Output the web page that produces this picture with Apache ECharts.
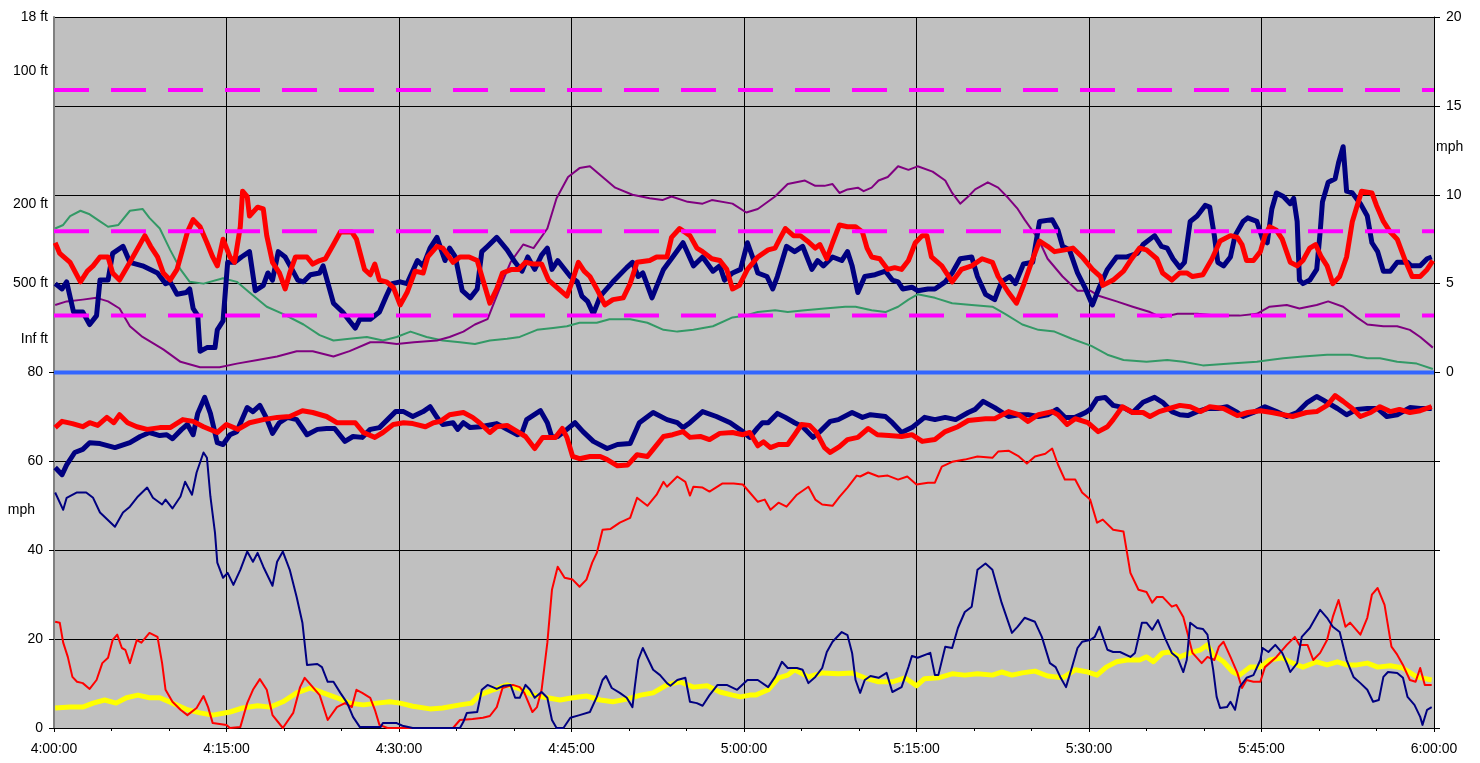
<!DOCTYPE html>
<html>
<head>
<meta charset="utf-8">
<title>Wind / visibility trace 4:00 - 6:00</title>
<script src="https://cdn.jsdelivr.net/npm/echarts@6/dist/echarts.min.js"></script>
<style>
  html, body { margin: 0; padding: 0; background: #fff; }
  #chart { width: 1480px; height: 763px; }
</style>
</head>
<body>
<div id="chart"></div>
<script>
// every point is [minutes after 4:00:00, value]

// upper band, right axis (mph)
const navyHi = [[0.1,5.0],[0.7,4.7],[1.1,5.1],[1.7,3.4],[2.5,3.4],[3.1,2.7],[3.7,3.2],[4.0,5.2],[4.7,5.2],[5.1,6.7],[6.0,7.1],[6.6,6.2],[7.7,6.0],[9.0,5.6],[9.7,5.0],[10.1,5.1],[10.7,4.4],[11.5,4.5],[11.8,4.7],[12.1,3.6],[12.5,3.2],[12.7,1.2],[13.3,1.4],[14.0,1.4],[14.2,2.4],[14.7,2.9],[15.1,6.2],[15.7,6.2],[16.3,6.5],[17.0,6.8],[17.5,4.6],[18.2,4.9],[18.6,5.6],[19.0,5.2],[19.5,6.8],[20.1,6.5],[20.7,5.8],[21.2,5.2],[21.7,5.1],[22.3,5.5],[23.1,5.6],[23.4,6.0],[24.3,3.9],[25.1,3.4],[25.7,2.9],[26.2,2.5],[26.6,3.0],[27.5,3.0],[28.3,3.4],[28.9,4.3],[29.4,5.0],[30.1,5.1],[30.7,5.0],[31.6,6.3],[32.1,6.0],[32.7,7.0],[33.3,7.6],[34.0,6.3],[34.4,7.0],[34.9,6.5],[35.5,4.6],[36.2,4.2],[36.8,4.7],[37.2,6.8],[37.7,7.1],[38.5,7.6],[39.4,6.9],[40.1,6.2],[40.7,5.7],[41.2,6.5],[41.8,5.8],[42.4,6.6],[42.9,7.0],[43.3,5.8],[43.8,6.3],[44.9,5.4],[45.5,5.1],[45.9,4.3],[46.4,4.0],[46.9,3.3],[47.5,4.3],[48.6,5.1],[49.8,5.9],[50.3,6.2],[50.8,5.4],[51.2,5.6],[52.0,4.2],[53.0,5.8],[53.8,6.5],[54.7,7.3],[55.6,6.0],[56.4,6.5],[57.3,5.7],[57.9,6.0],[58.3,5.2],[59.0,5.6],[59.7,5.8],[60.3,7.3],[60.8,6.4],[61.2,5.6],[62.0,5.4],[62.5,4.7],[62.9,5.4],[63.7,7.1],[64.4,6.8],[65.1,7.1],[65.9,5.8],[66.4,6.3],[66.9,6.0],[67.7,6.5],[68.5,6.3],[69.0,6.8],[69.4,6.0],[69.9,4.5],[70.5,5.4],[71.4,5.5],[72.3,5.7],[72.9,5.2],[73.4,5.1],[73.8,4.7],[74.6,4.8],[75.1,4.6],[76.0,4.7],[76.6,4.7],[77.5,5.1],[78.1,5.6],[78.8,6.4],[79.8,6.5],[80.3,5.4],[81.0,4.4],[81.8,4.1],[82.4,5.1],[83.1,5.4],[83.6,5.0],[84.3,6.1],[85.1,6.2],[85.7,8.5],[86.8,8.6],[87.3,8.0],[87.7,7.1],[88.3,6.9],[89.0,5.6],[89.7,4.7],[90.3,3.8],[90.9,4.8],[91.6,5.8],[92.4,6.5],[93.3,6.5],[94.2,6.7],[94.7,7.2],[95.7,7.7],[96.3,7.1],[96.8,7.0],[97.3,6.4],[97.9,5.9],[98.3,6.2],[98.8,8.5],[99.4,8.8],[100.1,9.4],[100.5,9.3],[100.9,7.7],[101.2,6.2],[101.7,6.0],[102.3,6.5],[102.7,7.7],[103.4,8.5],[103.8,8.7],[104.6,8.5],[105.1,7.5],[105.5,7.3],[105.9,9.2],[106.3,10.1],[106.9,9.9],[107.5,9.5],[107.8,9.8],[108.1,8.5],[108.3,5.2],[108.6,5.0],[109.2,5.2],[109.8,5.8],[110.1,7.9],[110.3,9.6],[110.8,10.7],[111.4,10.9],[111.7,11.8],[112.1,12.7],[112.4,10.2],[112.9,10.1],[113.6,9.5],[114.2,8.8],[114.6,7.3],[115.1,6.8],[115.6,5.7],[116.2,5.7],[116.8,6.2],[117.7,6.2],[118.0,6.0],[118.8,6.0],[119.4,6.4],[119.8,6.5]];

const redHi = [[0.1,7.3],[0.5,6.7],[1.4,6.2],[2.3,5.1],[2.9,5.7],[3.4,6.0],[4.0,6.5],[4.7,6.5],[5.1,5.6],[5.7,5.2],[6.6,6.2],[7.9,7.7],[8.4,7.1],[9.0,6.5],[9.5,5.6],[10.1,5.2],[10.7,5.8],[11.6,7.9],[12.1,8.6],[12.7,8.2],[13.3,7.3],[13.8,6.5],[14.2,6.0],[14.7,7.5],[15.3,6.5],[15.7,6.2],[16.2,8.2],[16.4,10.2],[16.8,9.9],[17.0,8.8],[17.7,9.3],[18.2,9.2],[18.5,7.7],[19.0,6.2],[19.6,5.6],[20.1,4.7],[20.5,5.6],[21.0,6.5],[22.0,6.5],[22.5,6.1],[23.1,6.3],[23.6,6.4],[24.3,7.2],[24.9,7.9],[25.9,7.9],[26.3,7.5],[27.0,5.8],[27.5,5.5],[27.9,6.1],[28.3,5.2],[28.9,5.1],[29.5,4.8],[30.1,3.8],[30.7,4.5],[31.4,5.7],[32.1,5.6],[32.5,6.5],[33.3,7.1],[33.8,7.0],[34.7,6.2],[35.3,6.5],[36.1,6.5],[36.8,6.3],[37.3,5.2],[37.9,3.9],[38.5,4.7],[39.0,5.6],[39.8,5.8],[40.4,5.8],[41.0,6.2],[41.7,6.1],[42.4,6.1],[43.0,5.2],[43.7,4.8],[44.6,4.3],[45.1,5.2],[45.6,6.2],[46.1,5.7],[46.6,5.4],[47.2,4.7],[47.9,3.8],[48.6,4.1],[49.5,4.2],[50.1,5.0],[50.7,6.2],[51.8,6.3],[52.4,6.5],[53.3,6.5],[53.7,7.6],[54.4,8.1],[55.3,7.7],[55.9,7.0],[56.4,6.8],[57.2,6.4],[57.9,6.3],[58.5,5.8],[59.0,4.7],[59.6,4.9],[60.3,5.8],[61.2,6.5],[62.1,6.9],[62.7,7.0],[63.1,7.5],[63.6,8.1],[64.3,7.7],[64.9,7.7],[65.5,7.4],[66.2,7.0],[66.6,7.2],[67.2,6.4],[67.7,7.3],[68.3,8.3],[69.0,8.2],[69.7,8.2],[70.3,7.9],[70.7,7.0],[71.1,6.5],[71.8,6.4],[72.5,5.8],[73.1,5.9],[73.7,5.8],[74.3,6.3],[74.9,7.3],[75.5,7.7],[75.9,7.7],[76.3,6.5],[77.2,6.0],[78.1,5.1],[78.9,5.8],[79.8,6.0],[80.7,6.4],[81.6,6.2],[82.1,5.4],[83.0,4.5],[83.7,3.9],[84.3,4.9],[85.0,6.2],[85.7,7.4],[86.4,7.1],[87.0,6.8],[87.9,6.9],[88.6,7.0],[89.4,6.5],[90.3,5.8],[91.0,5.4],[91.2,4.9],[92.1,5.2],[93.0,5.7],[93.6,6.3],[94.4,7.0],[95.0,6.9],[95.9,6.4],[96.4,5.6],[97.2,5.2],[97.9,5.6],[98.5,5.6],[99.0,5.4],[99.9,5.5],[100.7,6.4],[101.4,7.4],[102.3,7.7],[102.9,7.6],[103.3,7.2],[103.7,6.3],[104.3,6.3],[104.9,6.8],[105.3,7.7],[105.7,8.2],[106.3,8.0],[106.8,7.5],[107.5,6.2],[108.1,6.0],[108.6,6.3],[109.2,7.0],[109.7,7.2],[110.2,6.5],[110.7,6.0],[111.2,5.0],[111.8,5.4],[112.4,6.5],[112.9,8.5],[113.7,10.2],[114.6,10.1],[115.0,9.4],[115.6,8.5],[116.2,7.9],[116.8,7.5],[117.5,6.3],[118.1,5.4],[118.8,5.4],[119.4,5.8],[119.9,6.3]];

const purpleHi = [[0.1,3.8],[1.1,4.0],[2.5,4.1],[3.7,4.2],[4.7,4.0],[5.7,3.6],[6.6,2.6],[7.7,2.0],[9.5,1.3],[11.0,0.6],[12.7,0.3],[14.4,0.3],[15.9,0.5],[17.7,0.7],[19.4,0.9],[21.1,1.2],[22.5,1.2],[24.3,0.9],[25.7,1.2],[27.5,1.7],[28.6,1.7],[29.8,1.6],[31.3,1.7],[33.3,1.8],[34.4,2.0],[35.6,2.3],[36.6,2.7],[37.7,3.0],[38.8,4.8],[39.7,6.2],[40.8,7.2],[41.7,7.0],[42.9,8.1],[43.7,9.8],[44.7,11.0],[45.7,11.5],[46.6,11.6],[47.7,11.0],[48.8,10.4],[50.3,10.0],[51.8,9.8],[52.9,9.7],[53.7,9.9],[55.1,9.6],[56.4,9.5],[57.2,9.7],[59.0,9.5],[60.2,9.0],[61.2,9.2],[62.7,9.9],[63.8,10.6],[65.3,10.8],[66.2,10.5],[67.0,10.5],[67.7,10.6],[68.3,10.1],[69.0,10.3],[69.9,10.4],[70.4,10.2],[71.1,10.4],[71.7,10.8],[72.5,11.0],[73.4,11.6],[74.3,11.4],[75.1,11.6],[76.4,11.3],[77.5,10.8],[78.1,10.1],[78.8,9.5],[79.5,9.9],[80.1,10.3],[81.2,10.7],[82.1,10.4],[83.0,9.8],[83.8,9.2],[84.4,8.6],[85.6,7.5],[86.4,6.4],[87.7,5.4],[89.0,4.6],[90.1,4.6],[90.9,4.3],[92.4,4.0],[93.8,3.7],[95.3,3.4],[96.3,3.1],[97.7,3.3],[99.4,3.3],[101.1,3.2],[103.1,3.2],[104.6,3.3],[105.7,3.7],[107.2,3.8],[108.3,3.6],[109.8,3.8],[110.8,4.0],[112.1,3.7],[113.3,3.1],[114.2,2.7],[115.6,2.6],[116.8,2.6],[117.9,2.4],[118.8,2.0],[119.9,1.4]];

const greenHi = [[0.1,8.1],[0.8,8.3],[1.4,8.8],[2.3,9.1],[3.1,8.9],[4.0,8.5],[4.7,8.2],[5.6,8.3],[6.6,9.1],[7.7,9.2],[8.3,8.7],[9.2,8.1],[10.1,6.9],[11.0,5.8],[11.8,5.1],[13.0,5.0],[14.7,5.3],[15.9,5.1],[17.0,4.5],[18.5,3.7],[19.9,3.3],[21.7,2.7],[23.1,2.1],[24.3,1.8],[25.7,1.9],[27.2,2.0],[28.6,1.8],[29.8,2.0],[31.0,2.3],[32.4,2.0],[33.8,1.8],[35.3,1.7],[36.6,1.6],[37.9,1.8],[39.4,1.9],[40.5,2.0],[42.0,2.4],[43.4,2.5],[44.6,2.6],[45.7,2.8],[47.2,2.8],[48.3,3.0],[50.1,3.0],[51.6,2.8],[53.0,2.4],[54.2,2.3],[55.6,2.4],[57.3,2.6],[59.0,3.1],[60.1,3.2],[61.2,3.4],[62.7,3.5],[63.8,3.4],[65.3,3.5],[67.0,3.6],[68.8,3.7],[69.7,3.7],[71.1,3.5],[72.3,3.4],[73.4,3.7],[74.3,4.1],[75.1,4.4],[76.6,4.2],[78.1,3.9],[79.8,3.8],[81.6,3.7],[82.7,3.3],[84.2,2.7],[85.6,2.4],[87.0,2.3],[88.5,1.9],[90.2,1.5],[91.6,1.0],[93.0,0.7],[95.0,0.6],[96.8,0.7],[98.2,0.6],[99.9,0.4],[102.3,0.5],[104.6,0.6],[105.7,0.7],[106.9,0.8],[108.6,0.9],[110.7,1.0],[112.7,1.0],[114.2,0.8],[115.3,0.8],[116.8,0.6],[118.5,0.5],[119.9,0.2]];

// lower band, left axis (mph)
const navyLo = [[0.1,58.6],[0.7,57.0],[1.1,59.2],[1.8,62.0],[2.5,62.7],[3.1,64.2],[4.0,64.0],[5.3,63.1],[6.6,64.2],[7.5,65.6],[8.3,66.5],[9.2,65.8],[9.8,66.0],[10.3,65.1],[11.1,67.2],[11.6,68.3],[12.1,66.0],[12.5,70.8],[13.1,74.4],[13.6,70.8],[14.2,64.2],[14.7,63.8],[15.3,66.0],[15.9,66.7],[16.8,72.1],[17.3,71.2],[17.9,72.6],[18.5,69.6],[19.0,66.3],[19.6,68.7],[20.3,69.9],[21.1,69.4],[22.0,66.0],[22.9,67.2],[23.7,67.4],[24.4,67.4],[25.3,64.5],[26.0,65.6],[26.8,65.4],[27.5,67.2],[28.3,67.6],[29.0,69.4],[29.7,71.2],[30.4,71.2],[31.2,70.1],[32.1,71.2],[32.7,72.3],[33.3,69.9],[33.8,68.3],[34.7,68.7],[35.1,67.2],[35.6,68.7],[36.2,67.6],[37.1,67.8],[38.5,68.5],[39.4,67.2],[40.3,66.0],[40.7,66.5],[41.1,69.4],[42.3,71.4],[42.9,68.7],[43.3,65.4],[43.8,65.6],[44.6,67.2],[45.3,68.7],[46.0,66.7],[46.9,64.5],[48.1,62.9],[49.0,63.8],[50.1,64.0],[50.9,68.7],[52.1,71.0],[53.3,69.4],[54.2,68.7],[54.7,67.6],[55.3,68.7],[56.4,71.2],[57.6,70.1],[58.8,68.7],[59.9,66.7],[60.5,65.4],[61.2,67.6],[61.6,68.7],[62.1,68.7],[62.9,70.8],[63.6,69.9],[64.4,68.7],[65.1,67.8],[66.0,65.4],[66.6,66.7],[67.5,69.0],[68.2,69.4],[69.4,71.0],[70.3,69.9],[71.0,70.5],[72.3,70.1],[72.9,68.7],[73.7,66.5],[74.6,67.6],[75.7,69.9],[76.6,69.4],[77.5,69.9],[78.4,69.4],[79.5,71.0],[80.1,71.7],[80.8,73.5],[81.8,72.1],[83.0,70.1],[83.9,70.5],[84.7,70.5],[85.6,70.1],[86.4,70.5],[87.2,71.7],[87.9,69.9],[88.8,69.9],[89.7,71.0],[90.1,71.7],[90.7,74.1],[91.4,74.4],[92.1,72.6],[93.0,72.1],[93.8,71.0],[94.7,73.3],[95.7,74.4],[96.4,73.3],[97.2,71.2],[97.9,70.5],[98.6,70.3],[99.4,71.2],[100.3,71.9],[101.2,71.9],[102.0,72.3],[102.9,71.0],[103.4,70.1],[104.3,71.0],[105.3,72.3],[106.3,71.2],[107.2,70.1],[108.1,71.0],[109.0,73.3],[109.8,74.6],[110.3,73.9],[111.6,71.9],[112.4,70.5],[113.3,71.7],[114.2,71.9],[115.1,71.9],[115.9,70.1],[116.8,70.5],[117.9,72.1],[118.8,71.9],[119.8,71.9]];

const redLo = [[0.1,67.6],[0.7,69.0],[1.6,68.5],[2.5,67.8],[3.1,68.7],[3.8,68.1],[4.6,69.9],[5.2,68.7],[5.7,70.5],[6.4,68.7],[7.2,67.8],[8.1,67.2],[9.2,67.6],[10.1,67.6],[11.2,69.4],[12.1,69.0],[13.0,67.8],[14.2,66.5],[15.0,68.3],[16.0,67.2],[17.0,68.7],[18.2,69.4],[19.4,69.9],[20.5,70.1],[21.6,71.4],[22.5,71.0],[23.7,70.1],[24.6,68.7],[25.5,68.7],[26.2,68.7],[26.9,66.5],[27.9,65.4],[28.6,66.5],[29.5,68.3],[30.4,68.7],[31.2,68.5],[32.3,67.8],[33.0,68.7],[33.6,69.0],[34.4,70.5],[35.6,71.0],[36.4,69.9],[37.0,68.7],[37.9,66.5],[38.5,67.8],[39.4,68.1],[40.3,66.7],[41.0,65.6],[41.8,62.9],[42.5,65.4],[43.6,65.4],[44.2,67.4],[44.6,65.4],[45.1,61.1],[45.7,60.6],[46.6,61.1],[47.5,61.1],[48.1,60.4],[49.0,59.0],[49.9,59.2],[50.7,61.5],[51.6,61.1],[52.1,62.7],[53.0,65.6],[53.8,66.0],[54.7,66.7],[55.3,65.4],[56.2,65.6],[57.0,64.9],[57.9,66.3],[59.0,66.5],[59.9,66.0],[60.5,66.5],[61.2,63.5],[61.7,64.4],[62.3,63.1],[63.0,63.8],[63.8,63.8],[64.4,66.0],[65.0,68.3],[65.7,68.1],[66.3,66.5],[67.0,63.1],[67.5,62.0],[68.3,63.3],[69.0,64.9],[69.9,65.4],[70.8,67.4],[71.6,66.0],[72.6,65.8],[73.7,65.6],[74.6,66.0],[75.5,64.5],[76.6,64.9],[77.5,66.7],[78.6,67.8],[79.5,69.2],[81.0,69.6],[81.8,69.6],[83.0,71.2],[83.9,70.5],[84.7,69.0],[85.6,70.5],[86.8,71.2],[87.3,70.5],[88.1,68.3],[88.8,69.6],[89.9,68.7],[90.8,66.7],[91.6,67.8],[92.1,69.4],[92.9,72.3],[93.8,71.0],[94.7,71.0],[95.3,70.1],[96.1,71.2],[97.0,71.9],[97.9,72.6],[98.8,72.3],[99.7,71.2],[100.5,72.3],[101.7,71.9],[102.9,70.3],[103.8,71.0],[104.9,71.4],[105.9,71.0],[106.9,70.5],[107.7,70.1],[108.9,71.0],[109.8,71.2],[110.7,72.6],[111.4,74.8],[112.1,73.5],[112.9,71.9],[113.6,70.1],[114.5,71.0],[115.3,72.3],[116.2,71.2],[117.0,71.7],[117.9,71.0],[118.8,71.4],[119.8,72.3]];

const navyThin = [[0.1,53.0],[0.8,49.1],[1.1,51.8],[2.0,53.0],[2.8,53.0],[3.4,51.8],[4.0,48.5],[5.3,45.3],[6.0,48.5],[6.6,49.8],[7.3,52.1],[8.1,54.1],[8.6,51.8],[9.4,50.3],[9.7,51.4],[10.3,49.4],[11.0,52.1],[11.4,55.4],[12.0,52.5],[12.4,57.5],[13.0,62.0],[13.3,60.8],[13.6,52.1],[14.0,43.9],[14.2,37.2],[14.7,33.8],[15.1,34.9],[15.6,32.2],[16.2,35.6],[16.8,39.7],[17.3,37.4],[17.7,39.4],[18.2,36.3],[19.0,32.0],[19.4,37.4],[19.9,39.7],[20.5,35.6],[21.1,29.5],[21.6,23.7],[22.0,14.2],[22.9,14.4],[23.3,13.7],[23.8,10.4],[24.3,10.4],[24.9,7.9],[25.5,5.6],[26.0,2.5],[26.6,0.2],[28.4,0.2],[28.6,1.1],[29.8,1.1],[30.3,0.5],[31.2,0],[35.3,0],[35.6,1.4],[35.9,3.4],[36.8,3.6],[37.2,8.6],[37.7,9.7],[38.5,8.8],[39.1,9.5],[39.7,9.7],[40.1,6.8],[40.5,6.8],[41.0,9.7],[41.4,8.6],[41.8,6.8],[42.4,8.1],[42.9,6.8],[43.3,1.8],[43.7,0],[44.3,0],[44.9,2.3],[45.7,2.9],[46.6,3.6],[47.2,7.0],[47.7,10.8],[48.0,11.7],[48.5,9.0],[49.2,7.9],[49.8,6.8],[50.3,4.7],[50.5,9.2],[50.8,15.3],[51.2,18.0],[51.6,15.8],[52.1,13.1],[52.7,11.9],[53.3,10.1],[53.6,9.5],[54.2,10.8],[54.9,11.3],[55.3,5.9],[55.9,5.6],[56.4,5.0],[57.0,7.4],[57.7,9.7],[58.5,9.7],[59.4,8.6],[60.3,10.8],[61.2,10.8],[62.1,9.2],[62.7,11.5],[63.3,14.9],[63.8,13.5],[64.6,13.5],[65.1,13.1],[65.6,10.1],[66.2,11.5],[66.8,13.5],[67.2,17.1],[67.7,19.4],[68.5,21.6],[69.0,20.9],[69.4,16.9],[69.7,10.8],[70.1,7.9],[70.5,10.8],[71.0,11.7],[71.7,11.3],[72.4,12.4],[72.9,8.1],[73.7,9.2],[74.3,13.7],[74.6,16.2],[75.1,15.8],[76.2,16.9],[76.6,11.9],[76.9,11.9],[77.5,18.3],[78.1,18.0],[78.6,22.5],[79.2,26.1],[79.8,27.3],[80.3,35.6],[81.0,37.0],[81.6,35.6],[82.4,28.2],[83.3,21.4],[83.8,22.8],[84.4,24.8],[85.3,23.9],[85.9,20.5],[86.6,14.6],[87.1,13.7],[87.5,11.5],[88.0,9.2],[88.5,13.5],[89.0,18.0],[89.4,19.4],[90.1,19.8],[90.5,20.5],[90.9,22.8],[91.6,17.6],[92.1,17.1],[92.7,17.1],[93.6,16.0],[94.0,16.9],[94.6,23.7],[95.0,23.7],[95.5,22.1],[96.0,24.3],[96.6,20.3],[97.2,16.9],[97.7,15.8],[98.2,12.6],[98.5,15.3],[98.8,23.7],[99.4,22.5],[99.9,22.3],[100.3,21.0],[100.8,13.1],[101.1,7.0],[101.4,4.5],[102.0,4.7],[102.3,5.9],[102.7,4.1],[103.1,9.2],[103.7,11.3],[104.3,11.9],[104.9,15.3],[105.1,18.0],[105.6,17.1],[106.2,18.7],[106.8,16.9],[107.2,14.6],[107.5,12.6],[108.1,14.6],[108.5,20.5],[109.2,22.5],[110.1,26.6],[110.7,24.8],[111.2,22.8],[111.8,21.6],[112.4,15.3],[113.0,11.5],[113.6,10.1],[114.2,8.6],[114.7,5.9],[115.2,6.3],[115.6,11.5],[116.0,12.6],[116.8,12.4],[117.3,11.3],[117.7,7.0],[118.3,5.2],[118.8,2.5],[119.0,0.7],[119.4,4.1],[119.8,4.7]];

const redThin = [[0.1,23.9],[0.5,23.7],[0.8,19.2],[1.2,16.0],[1.6,11.5],[2.0,10.4],[2.5,10.1],[3.1,8.8],[3.7,10.8],[4.2,14.6],[4.7,15.8],[5.1,19.8],[5.5,21.0],[5.9,18.0],[6.2,17.6],[6.6,14.6],[7.2,19.8],[7.6,19.2],[8.3,21.4],[9.0,20.5],[9.4,14.6],[9.7,8.6],[10.3,5.9],[11.0,4.1],[11.6,2.9],[12.4,4.5],[13.0,7.2],[13.4,4.7],[13.8,1.1],[15.0,0.7],[15.3,0],[16.2,0.2],[16.8,5.6],[17.3,8.6],[17.9,11.0],[18.5,8.6],[19.0,2.9],[19.9,0],[20.8,3.4],[21.4,9.2],[21.8,11.3],[22.5,9.2],[23.1,7.4],[23.8,1.8],[24.6,4.7],[25.3,5.6],[25.9,4.7],[26.3,8.6],[26.8,7.9],[27.5,6.8],[27.9,4.1],[28.3,0.7],[29.0,0],[34.7,0],[35.3,1.8],[36.4,2.0],[37.3,2.3],[37.9,2.7],[38.5,4.7],[39.0,9.0],[39.9,9.7],[40.5,9.2],[40.9,7.9],[41.6,3.6],[42.0,4.7],[42.4,8.6],[42.9,19.2],[43.3,31.1],[43.8,36.3],[44.4,33.8],[45.1,33.4],[45.7,31.8],[46.3,33.4],[46.8,37.2],[47.2,39.4],[47.7,44.6],[48.4,44.8],[49.2,46.2],[50.1,47.3],[50.7,51.8],[51.6,50.0],[52.4,52.5],[53.0,55.4],[53.3,54.3],[54.2,56.6],[54.9,55.4],[55.3,52.3],[55.6,54.3],[56.4,54.1],[57.0,53.2],[58.1,55.0],[59.1,55.0],[59.9,54.8],[60.5,53.0],[61.2,50.9],[61.8,51.4],[62.3,49.1],[63.0,50.7],[63.7,49.8],[64.6,52.5],[65.6,54.3],[66.2,51.4],[66.8,50.3],[67.7,50.0],[68.3,52.0],[69.0,54.1],[69.8,56.8],[70.1,56.6],[70.8,57.5],[71.7,56.6],[72.5,56.8],[73.4,55.9],[74.2,56.6],[75.0,54.8],[76.0,55.2],[76.6,55.2],[77.2,58.8],[78.1,59.9],[79.2,60.4],[80.3,61.1],[81.6,60.8],[82.1,62.2],[83.0,62.4],[83.9,61.1],[84.6,59.5],[85.3,61.1],[86.2,61.7],[86.8,62.9],[87.3,59.3],[87.9,55.9],[88.8,55.9],[89.4,53.0],[90.1,51.4],[90.7,46.2],[91.2,46.9],[92.1,44.6],[93.0,44.2],[93.6,34.9],[94.3,31.1],[95.0,30.6],[95.5,28.2],[95.9,29.5],[96.4,29.5],[97.2,27.3],[97.6,27.7],[98.2,25.0],[98.6,21.0],[99.0,16.9],[99.8,14.6],[100.3,16.0],[100.9,15.3],[101.3,18.3],[101.7,19.4],[102.3,16.0],[102.9,12.4],[103.3,9.0],[103.7,10.8],[104.3,10.4],[104.9,10.4],[105.3,13.7],[105.7,14.6],[106.3,16.0],[107.2,18.7],[107.9,20.5],[108.3,18.7],[109.0,18.7],[109.5,15.3],[110.1,16.9],[110.7,19.8],[111.2,25.0],[111.7,28.8],[112.3,22.8],[112.7,23.7],[113.6,21.0],[114.2,24.8],[114.6,30.0],[115.1,31.5],[115.7,27.7],[116.3,18.3],[116.8,16.5],[117.3,14.2],[117.9,10.8],[118.4,10.4],[118.8,13.5],[119.2,9.7],[119.8,9.7]];

const yellowLo = [[0.1,4.5],[1.4,4.7],[2.5,4.7],[3.4,5.6],[4.4,6.3],[5.4,5.6],[6.3,6.8],[7.3,7.4],[8.3,6.8],[9.2,6.8],[10.3,5.6],[11.6,4.1],[12.7,3.4],[13.8,2.9],[15.3,3.6],[16.4,4.5],[17.7,5.0],[18.8,4.7],[19.9,5.9],[21.1,7.9],[22.3,9.0],[23.4,7.9],[24.6,6.8],[25.7,5.6],[26.9,5.2],[28.1,5.6],[29.2,5.9],[30.1,5.6],[31.2,4.9],[32.7,4.3],[33.8,4.5],[35.3,5.2],[36.3,5.6],[37.0,7.4],[38.2,8.6],[39.4,9.7],[40.5,8.8],[41.7,7.4],[42.9,6.8],[44.0,6.3],[45.1,6.8],[46.3,7.2],[47.5,6.3],[48.6,5.9],[49.8,6.5],[51.0,7.4],[52.1,7.9],[53.3,9.7],[54.4,10.4],[55.6,9.2],[56.8,9.5],[57.9,8.1],[59.0,7.4],[59.7,7.0],[60.5,7.4],[61.0,7.4],[62.1,8.6],[63.0,11.3],[63.8,11.9],[64.4,13.1],[65.6,11.5],[66.8,12.4],[68.2,12.2],[69.4,12.4],[70.5,11.3],[71.7,10.4],[72.9,10.4],[74.0,11.3],[75.0,9.5],[75.7,11.1],[76.9,11.3],[78.1,12.2],[79.2,11.9],[80.3,12.2],[81.6,11.9],[82.4,12.6],[83.3,11.9],[84.2,12.4],[85.3,12.8],[86.4,11.7],[87.7,11.3],[88.8,13.1],[89.9,12.6],[90.7,11.9],[91.5,13.7],[92.4,14.9],[93.3,15.3],[94.4,15.3],[95.0,16.0],[95.6,14.9],[96.4,16.9],[97.0,17.1],[97.9,16.0],[98.8,16.9],[99.7,17.6],[100.3,18.7],[100.8,16.5],[101.7,14.9],[102.5,12.6],[103.1,11.9],[104.0,13.7],[104.9,13.7],[105.7,15.3],[106.8,15.8],[107.7,14.6],[108.6,13.7],[109.8,14.9],[110.7,14.2],[111.6,14.9],[112.4,14.2],[113.3,14.2],[114.2,14.6],[115.1,13.7],[116.2,14.0],[117.3,13.5],[118.5,11.5],[119.8,10.8]];

// reference levels on the right axis
const thresholdLevels = [15.9, 7.95, 3.2];
const zeroLevel = 0;

// axis labels
const leftLabelValues = [0, 20, 40, 60, 80, 87.4, 100, 117.9, 147.8, 160, 49.1];
const leftLabelTexts = ['0', '20', '40', '60', '80', 'Inf ft', '500 ft', '200 ft', '100 ft', '18 ft', 'mph'];
const leftTickValues = [0, 20, 40, 60, 80];
const rightLabelValues = [0, 5, 10, 15, 20, 12.7];
const rightLabelTexts = ['0', '5', '10', '15', '20', 'mph'];
const startHour = 4;

const FONT = '"Liberation Sans", Arial, sans-serif';
const FS = 14;

function pickLabel(values, texts, v) {
  for (let i = 0; i < values.length; i++) {
    if (Math.abs(values[i] - v) < 0.01) return texts[i];
  }
  return '';
}

function line(data, yAxisIndex, color, width, z, dash) {
  return {
    type: 'line',
    data: data,
    yAxisIndex: yAxisIndex,
    symbol: 'none',
    silent: true,
    z: z,
    lineStyle: { color: color, width: width, type: dash || 'solid', cap: 'butt', join: 'round' }
  };
}

const chart = echarts.init(document.getElementById('chart'), null, { renderer: 'canvas' });

const series = [
  line(yellowLo, 0, '#FFFF00', 5, 2),
  line(redThin, 0, '#FF0000', 2, 3),
  line(navyThin, 0, '#000080', 2, 3),
  line(navyLo, 0, '#000080', 5, 4),
  line(redLo, 0, '#FF0000', 5, 4),
  line(greenHi, 1, '#339966', 2, 3),
  line(purpleHi, 1, '#800080', 2, 3),
  line(navyHi, 1, '#000080', 5, 4),
  line(redHi, 1, '#FF0000', 5, 4),
  line([[0, zeroLevel], [120, zeroLevel]], 1, '#3366FF', 4, 5)
];
thresholdLevels.forEach(lv => {
  series.push(line([[0, lv], [120, lv]], 1, '#FF00FF', 4, 6, [35, 22]));
});

chart.setOption({
  animation: false,
  backgroundColor: '#ffffff',
  grid: {
    left: 54, right: 46, top: 17, bottom: 35,
    show: true, backgroundColor: '#C0C0C0', borderWidth: 0
  },
  xAxis: {
    type: 'value',
    min: 0, max: 120, interval: 15,
    axisLine: { lineStyle: { color: '#000', width: 1 } },
    axisTick: { show: true, length: 4, lineStyle: { color: '#000' } },
    minorTick: { show: true, splitNumber: 3, length: 3, lineStyle: { color: '#000' } },
    splitLine: { show: true, lineStyle: { color: '#000', width: 1 } },
    axisLabel: {
      color: '#000', fontFamily: FONT, fontSize: FS, margin: 14,
      formatter: v => {
        const h = startHour + Math.floor(v / 60);
        const m = v % 60;
        return h + ':' + String(m).padStart(2, '0') + ':00';
      }
    }
  },
  yAxis: [
    {
      type: 'value', position: 'left',
      min: 0, max: 160, interval: 20,
      axisLine: { show: true, lineStyle: { color: '#808080', width: 2 } },
      axisTick: { show: true, length: 5, customValues: leftTickValues, lineStyle: { color: '#000' } },
      splitLine: { show: false },
      axisLabel: {
        customValues: leftLabelValues,
        margin: 6,
        color: '#000', fontFamily: FONT, fontSize: FS,
        formatter: v => {
          const t = pickLabel(leftLabelValues, leftLabelTexts, v);
          if (t === 'mph') return '{m|' + t + '}';
          if (t.indexOf('ft') >= 0) return '{f|' + t + '}';
          return '{n|' + t + '}';
        },
        rich: {
          n: { padding: [0, 5, 0, 0], fontFamily: FONT, fontSize: FS, color: '#000' },
          f: { padding: [0, 0, 0, 0], fontFamily: FONT, fontSize: FS, color: '#000' },
          m: { padding: [0, 13, 0, 0], fontFamily: FONT, fontSize: FS, color: '#000' }
        }
      }
    },
    {
      type: 'value', position: 'right',
      min: -20, max: 20, interval: 5,
      axisLine: { show: true, lineStyle: { color: '#000', width: 1 } },
      axisTick: { show: true, length: 6, lineStyle: { color: '#000' } },
      splitLine: { show: true, lineStyle: { color: '#000', width: 1 } },
      axisLabel: {
        customValues: rightLabelValues,
        margin: 2,
        color: '#000', fontFamily: FONT, fontSize: FS,
        formatter: v => {
          const t = pickLabel(rightLabelValues, rightLabelTexts, v);
          return t === 'mph' ? '{m|' + t + '}' : '{n|' + t + '}';
        },
        rich: {
          n: { padding: [0, 0, 0, 10], fontFamily: FONT, fontSize: FS, color: '#000' },
          m: { padding: [0, 0, 0, 0], fontFamily: FONT, fontSize: FS, color: '#000' }
        }
      }
    }
  ],
  series: series
});
</script>
</body>
</html>
